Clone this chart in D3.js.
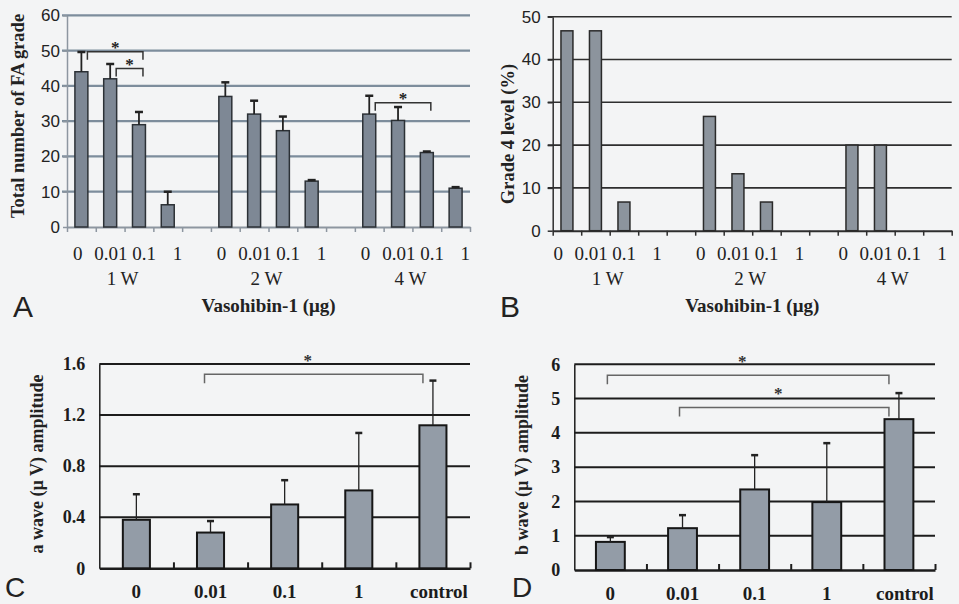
<!DOCTYPE html>
<html>
<head>
<meta charset="utf-8">
<title>Vasohibin-1 bar charts</title>
<script src="https://d3js.org/d3.v7.min.js"></script>
<style>
  body { margin: 0; background: #f3f4f5; }
  svg { display: block; }
  .serif { font-family: "Liberation Serif", "Times New Roman", serif; }
  .sans { font-family: "Liberation Sans", Arial, sans-serif; }
</style>
</head>
<body>
<div id="chart"></div>
<script>
// ---- data ----
const doses = ["0", "0.01", "0.1", "1"];
const weeks = ["1 W", "2 W", "4 W"];
// A: total number of FA grade (mean, error), week x dose
const faMean = [44, 42, 29, 6.3, 37, 32, 27.3, 13, 32, 30.2, 21.1, 11];
const faErr  = [5.6, 4.2, 3.6, 3.7, 4, 3.8, 4, 0.3, 5.2, 3.8, 0.3, 0.3];
const faTicks = [0, 10, 20, 30, 40, 50, 60];
// [week, from dose, to dose, bracket level]
const faSig = [["1 W", "0", "0.1", 49.7], ["1 W", "0.01", "0.1", 44.9], ["4 W", "0", "0.1", 35.2]];
// B: grade 4 level (%)
const grade4 = [46.7, 46.7, 6.7, 0, 26.7, 13.3, 6.7, 0, 20, 20, 0, 0];
const g4Ticks = [0, 10, 20, 30, 40, 50];

// C, D: ERG amplitudes
const ergDoses = ["0", "0.01", "0.1", "1", "control"];
const aMean = [0.38, 0.28, 0.5, 0.61, 1.12];
const aErr  = [0.2, 0.09, 0.19, 0.45, 0.35];
const aTicks = [0, 0.4, 0.8, 1.2, 1.6];
const aSig = [["0.01", "control", 1.52]];
const bMean = [0.82, 1.22, 2.35, 1.98, 4.4];
const bErr  = [0.14, 0.38, 1.0, 1.72, 0.76];
const bTicks = [0, 1, 2, 3, 4, 5, 6];
const bSig = [["0", "control", 5.68], ["0.01", "control", 4.74]];

const svg = d3.select("#chart").append("svg")
  .attr("width", 959).attr("height", 604);

svg.append("rect").attr("width", 959).attr("height", 604).attr("fill", "#f3f4f5");

// 14 slots: 4 doses per week with an empty slot between weeks
const slots = [];
weeks.forEach((w, i) => {
  if (i > 0) slots.push("gap" + i);
  doses.forEach(d => slots.push(w + "|" + d));
});

function rowsOf(mean, err) {
  return weeks.flatMap((w, i) => doses.map((d, j) => ({
    week: w, dose: d, mean: mean[i * 4 + j], err: err ? err[i * 4 + j] : 0
  })));
}

function groupedPanel(o) {
  const g = svg.append("g");
  const x = d3.scaleBand().domain(slots).range(o.xr);
  const xi = d3.scaleLinear().domain([0, slots.length]).range(o.xr);
  const y = d3.scaleLinear().domain([0, d3.max(o.ticks)]).range(o.yr);

  // gridlines
  g.selectAll(".grid").data(o.ticks.slice(1)).join("line")
    .attr("x1", o.xr[0] - 5).attr("x2", o.xr[1])
    .attr("y1", d => y(d)).attr("y2", d => y(d))
    .attr("stroke", o.grid).attr("stroke-width", o.gridW);

  // y axis
  const ya = g.append("g").attr("transform", `translate(${o.xr[0]},0)`)
    .call(d3.axisLeft(y).tickValues(o.ticks).tickSize(o.yTick).tickPadding(o.yPad).tickSizeOuter(0));
  ya.select(".domain").attr("stroke", o.axis).attr("stroke-width", 1.5);
  ya.selectAll(".tick line").attr("stroke", o.axis).attr("stroke-width", 1.5);
  ya.selectAll("text").attr("class", "sans").style("font-size", "17px").attr("fill", "#222");

  // x axis with ticks on slot boundaries
  const xa = g.append("g").attr("transform", `translate(0,${o.yr[0]})`)
    .call(d3.axisBottom(xi).tickValues(d3.range(slots.length + 1)).tickFormat("").tickSize(5).tickSizeOuter(0));
  xa.select(".domain").attr("stroke", o.axis).attr("stroke-width", 2);
  xa.selectAll(".tick line").attr("stroke", o.axis).attr("stroke-width", 1.5);

  // bars
  const bw = x.bandwidth() * o.barFrac;
  const cx = d => x(d.week + "|" + d.dose) + x.bandwidth() / 2;
  const rows = o.rows.filter(d => d.mean > 0);
  g.selectAll(".bar").data(rows).join("rect")
    .attr("x", d => cx(d) - bw / 2).attr("width", bw)
    .attr("y", d => y(d.mean)).attr("height", d => y(0) - y(d.mean))
    .attr("fill", o.fill).attr("stroke", o.stroke).attr("stroke-width", 1.5);

  // error bars
  const eb = rows.filter(d => d.err > 0);
  g.selectAll(".whisker").data(eb).join("line")
    .attr("x1", cx).attr("x2", cx)
    .attr("y1", d => y(d.mean)).attr("y2", d => y(d.mean + d.err))
    .attr("stroke", "#222").attr("stroke-width", 1.8);
  g.selectAll(".cap").data(eb).join("line")
    .attr("x1", d => cx(d) - 4).attr("x2", d => cx(d) + 4)
    .attr("y1", d => y(d.mean + d.err)).attr("y2", d => y(d.mean + d.err))
    .attr("stroke", "#222").attr("stroke-width", 2.5);

  // dose and week labels
  weeks.forEach(w => {
    const x0 = x(w + "|0"), x1 = x(w + "|1") + x.bandwidth();
    const lp = d3.scalePoint().domain(doses).range([x0 + o.lShift, x1 + o.lShift]).padding(0.23);
    g.selectAll(null).data(doses).join("text").attr("class", "serif")
      .attr("x", d => lp(d)).attr("y", o.labY).attr("text-anchor", "middle")
      .style("font-size", "19px").attr("fill", "#222").text(d => d);
    g.append("text").attr("class", "serif")
      .attr("x", (x0 + x1) / 2 - 2).attr("y", o.labY + 25).attr("text-anchor", "middle")
      .style("font-size", "19px").attr("fill", "#222").text(w);
  });

  g.append("text").attr("class", "serif")
    .attr("x", (o.xr[0] + o.xr[1]) / 2).attr("y", o.labY + 52).attr("text-anchor", "middle")
    .style("font-size", "19px").style("font-weight", "bold").attr("fill", "#222")
    .text("Vasohibin-1 (μg)");

  g.append("text").attr("class", "serif")
    .attr("transform", `translate(${o.ytPos[0]},${o.ytPos[1]}) rotate(-90)`)
    .attr("dy", "0.35em").attr("text-anchor", "middle")
    .style("font-size", "18.5px").style("font-weight", "bold").attr("fill", "#222")
    .text(o.yTitle);

  // significance brackets
  (o.sig || []).forEach(s => {
    const xl = x(s[0] + "|" + s[1]) + x.bandwidth() / 2 + 6;
    const xr = x(s[0] + "|" + s[2]) + x.bandwidth() / 2 + 4;
    const yy = y(s[3]);
    g.append("path").attr("d", `M${xl},${yy + 8}V${yy}H${xr}V${yy + 8}`)
      .attr("fill", "none").attr("stroke", "#333").attr("stroke-width", 1.5);
    g.append("text").attr("class", "serif").attr("x", (xl + xr) / 2).attr("y", yy + 1)
      .attr("text-anchor", "middle").style("font-size", "17px").style("font-weight", "bold")
      .attr("fill", "#222").text("*");
  });

  svg.append("text").attr("class", "sans").attr("x", o.letter[0]).attr("y", o.letter[1])
    .style("font-size", "30px").attr("fill", "#222").text(o.name);
}

function ergPanel(o) {
  const g = svg.append("g");
  const x = d3.scaleBand().domain(ergDoses).range(o.xr);
  const xi = d3.scaleLinear().domain([0, ergDoses.length]).range(o.xr);
  const y = d3.scaleLinear().domain([0, d3.max(o.ticks)]).range(o.yr);
  const rows = ergDoses.map((d, i) => ({ dose: d, mean: o.mean[i], err: o.err[i] }));

  g.selectAll(".grid").data(o.ticks.slice(1)).join("line")
    .attr("x1", o.xr[0]).attr("x2", o.xr[1])
    .attr("y1", d => y(d)).attr("y2", d => y(d))
    .attr("stroke", "#1c1c1c").attr("stroke-width", 2);

  const ya = g.append("g").attr("transform", `translate(${o.xr[0]},0)`)
    .call(d3.axisLeft(y).tickValues(o.ticks).tickSize(0).tickPadding(14)
      .tickFormat(d => d === 0 ? "0" : o.fmt(d)));
  ya.select(".domain").attr("stroke", "#1c1c1c").attr("stroke-width", 1.5);
  ya.selectAll("text").attr("class", "serif").style("font-size", "18px")
    .style("font-weight", "bold").attr("fill", "#1c1c1c");

  const xa = g.append("g").attr("transform", `translate(0,${o.yr[0]})`)
    .call(d3.axisBottom(xi).tickValues(d3.range(1, ergDoses.length + 1)).tickFormat("").tickSize(-6).tickSizeOuter(0));
  xa.select(".domain").attr("stroke", "#1c1c1c").attr("stroke-width", 2.5);
  xa.selectAll(".tick line").attr("stroke", "#1c1c1c").attr("stroke-width", 2);

  const bw = x.bandwidth() * o.barFrac;
  const cx = d => x(d.dose) + x.bandwidth() / 2;
  g.selectAll(".bar").data(rows).join("rect")
    .attr("x", d => cx(d) - bw / 2).attr("width", bw)
    .attr("y", d => y(d.mean)).attr("height", d => y(0) - y(d.mean))
    .attr("fill", "#939ca7").attr("stroke", "#161616").attr("stroke-width", 2);

  g.selectAll(".whisker").data(rows).join("line")
    .attr("x1", cx).attr("x2", cx)
    .attr("y1", d => y(d.mean)).attr("y2", d => y(d.mean + d.err))
    .attr("stroke", "#222").attr("stroke-width", 1.3);
  g.selectAll(".cap").data(rows).join("line")
    .attr("x1", d => cx(d) - 3.5).attr("x2", d => cx(d) + 3.5)
    .attr("y1", d => y(d.mean + d.err)).attr("y2", d => y(d.mean + d.err))
    .attr("stroke", "#222").attr("stroke-width", 2.5);

  g.selectAll(".xlab").data(ergDoses).join("text").attr("class", "serif")
    .attr("x", d => x(d) + x.bandwidth() / 2 + (d === "control" ? 6 : 0)).attr("y", o.labY)
    .attr("text-anchor", "middle").style("font-size", "19px").style("font-weight", "bold")
    .attr("fill", "#1c1c1c").text(d => d);

  g.append("text").attr("class", "serif")
    .attr("transform", `translate(${o.ytPos[0]},${o.ytPos[1]}) rotate(-90)`)
    .attr("dy", "0.35em").attr("text-anchor", "middle")
    .style("font-size", "18px").style("font-weight", "bold").attr("fill", "#222")
    .text(o.yTitle);

  o.sig.forEach(s => {
    const xl = x(s[0]) + x.bandwidth() / 2 + o.dxL;
    const xr = x(s[1]) + x.bandwidth() / 2 - 10;
    const yy = y(s[2]);
    g.append("path").attr("d", `M${xl},${yy + 9}V${yy}H${xr}V${yy + 9}`)
      .attr("fill", "none").attr("stroke", "#666").attr("stroke-width", 1.5);
    g.append("text").attr("class", "serif").attr("x", (xl + xr) / 2 - 6).attr("y", yy - 8)
      .attr("text-anchor", "middle").style("font-size", "17px").style("font-weight", "bold")
      .attr("fill", "#333").text("*");
  });

  svg.append("text").attr("class", "sans").attr("x", o.letter[0]).attr("y", o.letter[1])
    .style("font-size", "28px").attr("fill", "#222").text(o.name);
}

groupedPanel({
  name: "A", letter: [13, 317], rows: rowsOf(faMean, faErr), ticks: faTicks, sig: faSig,
  xr: [67, 470], yr: [227, 15.3], barFrac: 0.45, lShift: 3,
  grid: "#7d8d9c", gridW: 2.2, axis: "#8d96a0", yTick: 4, yPad: 3,
  fill: "#7e8895", stroke: "#2c3136", labY: 260, ytPos: [18, 116],
  yTitle: "Total number of FA grade"
});

groupedPanel({
  name: "B", letter: [500, 317], rows: rowsOf(grade4, null), ticks: g4Ticks,
  xr: [552.7, 951.7], yr: [230.7, 16.7], barFrac: 0.42, lShift: -2,
  grid: "#2e2e2e", gridW: 1.6, axis: "#2e2e2e", yTick: 5, yPad: 7,
  fill: "#8c949d", stroke: "#2a2a2a", labY: 260, ytPos: [508, 134],
  yTitle: "Grade 4 level (%)"
});

ergPanel({
  name: "C", letter: [5, 597], mean: aMean, err: aErr, ticks: aTicks, sig: aSig,
  fmt: d3.format(".1f"), xr: [99.3, 470], yr: [568.3, 364], barFrac: 0.365, dxL: -6,
  labY: 598, ytPos: [36.7, 464], yTitle: "a wave (µ V) amplitude"
});

ergPanel({
  name: "D", letter: [512, 597], mean: bMean, err: bErr, ticks: bTicks, sig: bSig,
  fmt: d3.format("d"), xr: [574.3, 935], yr: [570, 364.3], barFrac: 0.4, dxL: -3,
  labY: 600, ytPos: [521.7, 465], yTitle: "b wave (µ V) amplitude"
});
</script>
</body>
</html>
